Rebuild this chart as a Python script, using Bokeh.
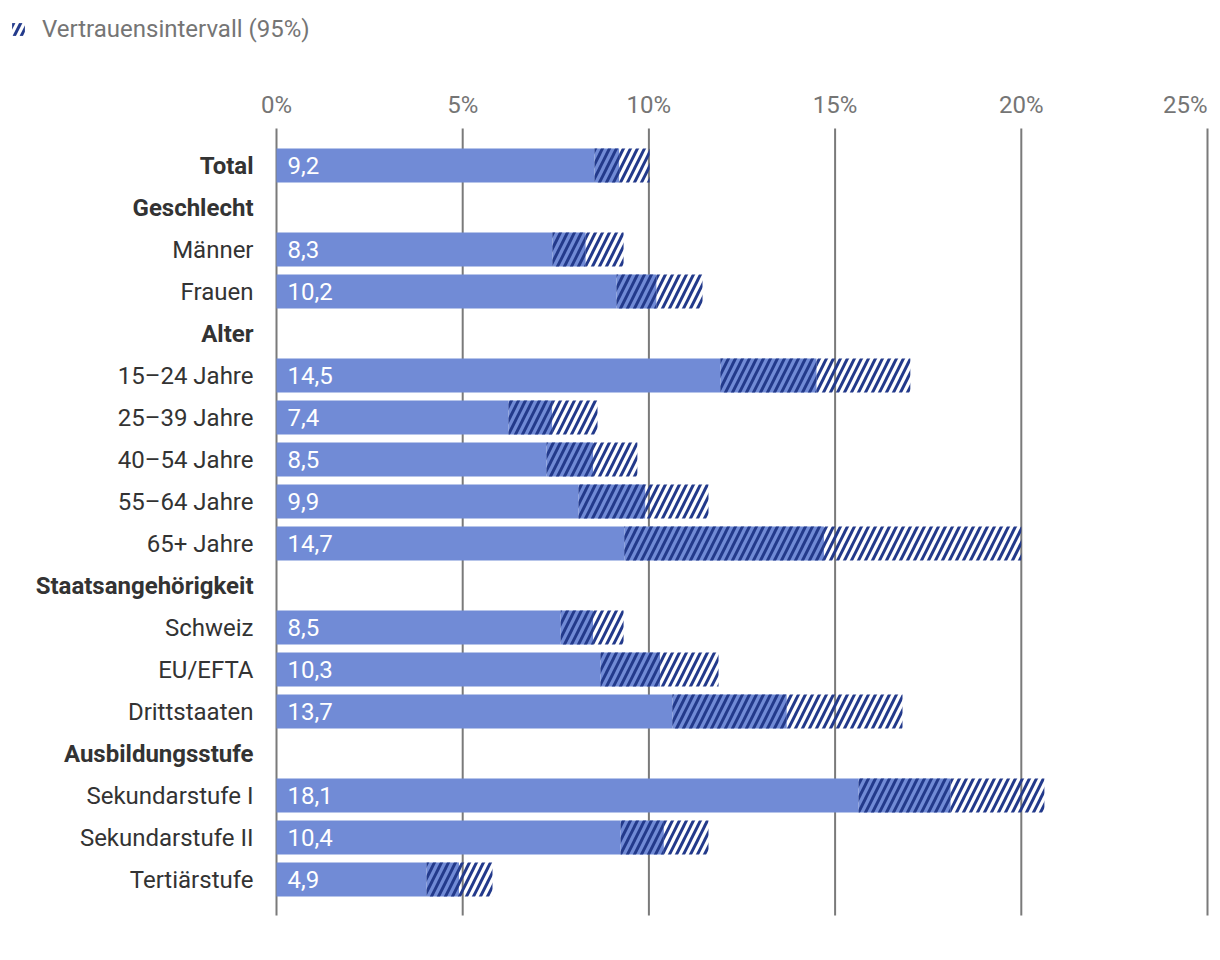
from bokeh.plotting import figure
from bokeh.models import Range1d, ColumnDataSource, Legend, LegendItem
from bokeh.core.properties import value
from bokeh.embed import file_html
from bokeh.resources import INLINE

# ---------------- data ----------------
CATEGORIES = ["Total", "Geschlecht", "Männer", "Frauen", "Alter",
              "15–24 Jahre", "25–39 Jahre", "40–54 Jahre", "55–64 Jahre", "65+ Jahre",
              "Staatsangehörigkeit", "Schweiz", "EU/EFTA", "Drittstaaten",
              "Ausbildungsstufe", "Sekundarstufe I", "Sekundarstufe II", "Tertiärstufe"]
BOLD = ["Total", "Geschlecht", "Alter", "Staatsangehörigkeit", "Ausbildungsstufe"]
BAR_CATEGORIES = ["Total", "Männer", "Frauen", "15–24 Jahre", "25–39 Jahre", "40–54 Jahre",
                  "55–64 Jahre", "65+ Jahre", "Schweiz", "EU/EFTA", "Drittstaaten",
                  "Sekundarstufe I", "Sekundarstufe II", "Tertiärstufe"]
VALUES = [9.2, 8.3, 10.2, 14.5, 7.4, 8.5, 9.9, 14.7, 8.5, 10.3, 13.7, 18.1, 10.4, 4.9]
LOWER = [8.54, 7.41, 9.13, 11.92, 6.23, 7.25, 8.11, 9.34, 7.63, 8.70, 10.63, 15.63, 9.24, 4.03]
UPPER = [10.02, 9.32, 11.44, 17.02, 8.62, 9.69, 11.60, 20.00, 9.32, 11.87, 16.81, 20.62, 11.60, 5.80]
TICKS = [0, 5, 10, 15, 20, 25]
LEGEND_LABEL = "Vertrauensintervall (95%)"

# ---------------- styling ----------------
FONT = "Roboto"
BLUE = "#718bd6"
NAVY = "#233a8b"
GRID = "#7a7a7a"
W, H = 1212, 940
PX = 37.24      # pixels per percent
X0 = 276        # canvas x of 0 %
ROW = 42        # pixels per row
Y0 = 165        # canvas y of first row centre
HATCH = dict(hatch_pattern="/", hatch_color=NAVY, hatch_scale=14, hatch_weight=3)

p = figure(width=W, height=H, output_backend="svg", toolbar_location=None,
           x_range=Range1d(-X0 / PX, (W - X0) / PX),
           y_range=Range1d((H - Y0) / ROW, -Y0 / ROW),
           min_border=0, min_border_left=0, min_border_right=0,
           min_border_top=0, min_border_bottom=0)
p.xaxis.visible = False
p.yaxis.visible = False
p.grid.visible = False
p.outline_line_color = None
p.background_fill_color = "white"
p.border_fill_color = "white"

row_of = {c: i for i, c in enumerate(CATEGORIES)}
ys = [row_of[c] for c in BAR_CATEGORIES]
n_rows = len(CATEGORIES)

# grid lines
grid_top = -37 / ROW
grid_bottom = (n_rows - 1) + 36 / ROW
p.segment(x0=TICKS, x1=TICKS, y0=[grid_top] * len(TICKS), y1=[grid_bottom] * len(TICKS),
          line_color=GRID, line_width=2)

src = ColumnDataSource(dict(y=ys, value=VALUES, lower=LOWER, upper=UPPER,
                            label=[f"{v:.1f}".replace(".", ",") for v in VALUES]))
BH = 34 / ROW
p.hbar(y="y", left=0, right="lower", height=BH, source=src,
       fill_color=BLUE, line_color=None)
p.hbar(y="y", left="lower", right="value", height=BH, source=src,
       fill_color=BLUE, line_color=None, **HATCH)
ci = p.hbar(y="y", left="value", right="upper", height=BH, source=src,
            fill_color=None, line_color=None, **HATCH)

FS = "24px"
# value labels
p.text(x=0, y="y", text="label", source=src, x_offset=11,
       text_font=value(FONT), text_font_size=FS, text_color="white",
       text_align="left", text_baseline="middle")

# category labels
normal = [c for c in CATEGORIES if c not in BOLD]
bold = [c for c in CATEGORIES if c in BOLD]
p.text(x=[0] * len(normal), y=[row_of[c] for c in normal], text=normal, x_offset=-23,
       text_font=value(FONT), text_font_size=FS, text_color="#333333",
       text_align="right", text_baseline="middle")
p.text(x=[0] * len(bold), y=[row_of[c] for c in bold], text=bold, x_offset=-23,
       text_font=value(FONT), text_font_size=FS, text_color="#333333",
       text_font_style="bold", text_align="right", text_baseline="middle")

# tick labels (top)
tick_y = -60.5 / ROW
inner = TICKS[:-1]
p.text(x=inner, y=[tick_y] * len(inner), text=[f"{t}%" for t in inner],
       text_font=value(FONT), text_font_size=FS, text_color="#757575",
       text_align="center", text_baseline="middle")
p.text(x=[TICKS[-1]], y=[tick_y], text=[f"{TICKS[-1]}%"],
       text_font=value(FONT), text_font_size=FS, text_color="#757575",
       text_align="right", text_baseline="middle")

legend = Legend(items=[LegendItem(label=LEGEND_LABEL, renderers=[ci])],
                location=(10, H - 43), orientation="horizontal",
                padding=0, margin=0, spacing=0,
                glyph_width=16, glyph_height=16, label_standoff=16,
                label_text_font=FONT, label_text_font_size=FS,
                label_text_color="#757575",
                border_line_color=None, background_fill_alpha=0)
p.add_layout(legend)

open("out.html", "w").write(file_html(p, INLINE))
